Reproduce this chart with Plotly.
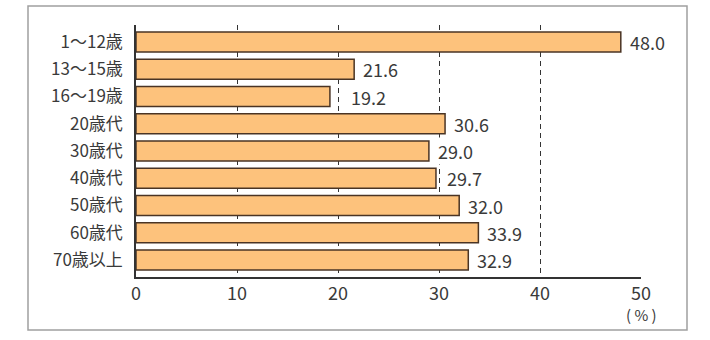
import plotly.graph_objects as go

categories = ["1〜12歳", "13〜15歳", "16〜19歳", "20歳代", "30歳代",
              "40歳代", "50歳代", "60歳代", "70歳以上"]
values = [48.0, 21.6, 19.2, 30.6, 29.0, 29.7, 32.0, 33.9, 32.9]
label_gap = [8, 8, 20, 8, 8, 10, 8, 8, 8]
tick_vals = [0, 10, 20, 30, 40, 50]
tick_text = ["0", "10", "20", "30", "40", "50"]

FONT = "Noto Sans CJK JP, Noto Sans, sans-serif"
TEXT = "#3a3a3a"

fig = go.Figure(go.Bar(
    y=categories,
    x=values,
    orientation="h",
    width=0.73,
    marker=dict(color="#FDC27C", line=dict(color="#4a3424", width=1.5)),
))

# value labels to the right of each bar, on white so gridlines pass behind
value_labels = [dict(
    x=v, y=c, xref="x", yref="y", text=f"{v:.1f}", showarrow=False,
    xanchor="left", yanchor="middle", xshift=g, bgcolor="white", borderpad=0,
    font=dict(size=18, color=TEXT),
) for c, v, g in zip(categories, values, label_gap)]

fig.update_layout(
    width=710, height=340,
    margin=dict(l=136, r=69, t=25, b=63),
    paper_bgcolor="white", plot_bgcolor="white",
    font=dict(family=FONT, color=TEXT, size=16),
    showlegend=False,
    xaxis=dict(
        range=[0, 50], tickvals=tick_vals, ticktext=tick_text,
        showgrid=True, gridcolor="#333333", gridwidth=1, griddash="5px,4px",
        showline=True, linecolor="#333333", linewidth=1.5,
        ticks="", zeroline=False, tickfont=dict(size=18, color=TEXT),
        fixedrange=True,
    ),
    yaxis=dict(
        type="category", categoryorder="array", categoryarray=categories,
        range=[8.624, -0.624],
        showgrid=False, showline=True, linecolor="#333333", linewidth=1.5,
        ticks="", ticklabelstandoff=8, tickfont=dict(size=17, color=TEXT),
        fixedrange=True,
    ),
    shapes=[dict(
        type="rect", xref="paper", yref="paper",
        x0=-108 / 505, x1=(687 - 136) / 505,
        y0=-(330 - 277) / 252, y1=1 + (25 - 6) / 252,
        line=dict(color="#a0a0a0", width=1.5), fillcolor="rgba(0,0,0,0)",
        layer="below",
    )],
    annotations=value_labels + [dict(
        x=50, y=0, xref="x", yref="paper", yshift=-25,
        text="( % )", showarrow=False, font=dict(size=15, color=TEXT),
        xanchor="center", yanchor="top",
    )],
)

fig.write_html("out.html")
